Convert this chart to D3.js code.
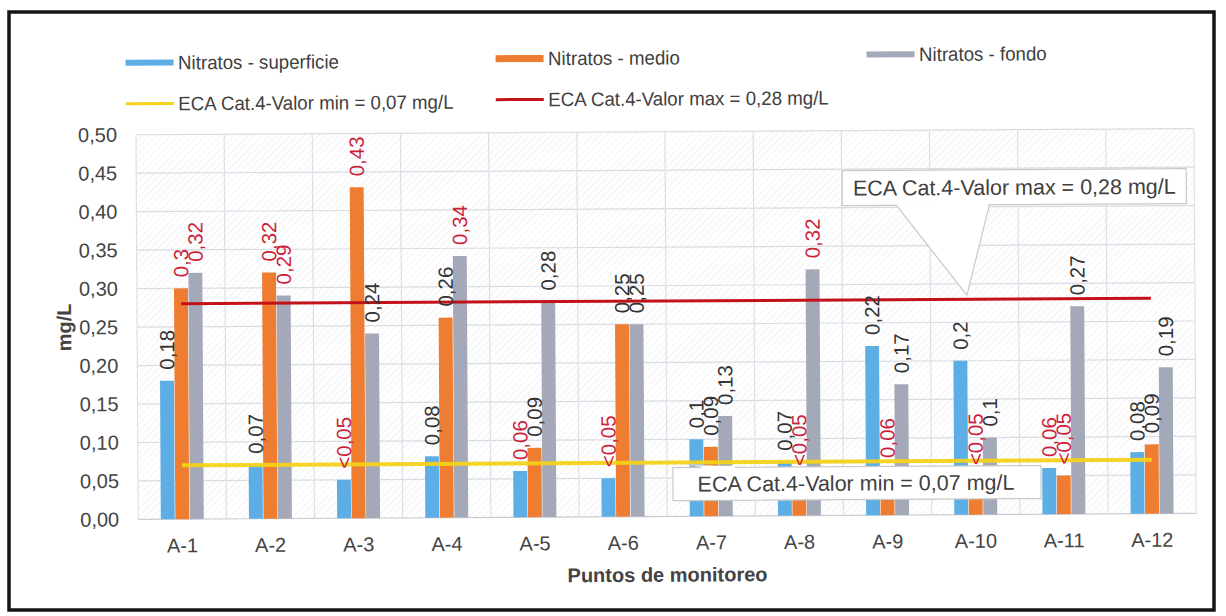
<!DOCTYPE html>
<html>
<head>
<meta charset="utf-8">
<script src="https://cdn.jsdelivr.net/npm/d3@7"></script>
<style>
  html, body { margin: 0; padding: 0; background: #fff; }
  svg { display: block; font-family: "Liberation Sans", Arial, sans-serif; }
</style>
</head>
<body>
<svg id="chart" width="1226" height="616"></svg>
<script>
// Monitoring points
const categories = ["A-1","A-2","A-3","A-4","A-5","A-6","A-7","A-8","A-9","A-10","A-11","A-12"];

// Nitrate concentrations (mg/L) by depth
const superficie = [0.18, 0.07, 0.05, 0.08, 0.06, 0.05, 0.10, 0.07, 0.22, 0.20, 0.06, 0.08];
const medio      = [0.30, 0.32, 0.43, 0.26, 0.09, 0.25, 0.09, 0.05, 0.06, 0.05, 0.05, 0.09];
const fondo      = [0.32, 0.29, 0.24, 0.34, 0.28, 0.25, 0.13, 0.32, 0.17, 0.10, 0.27, 0.19];

// Data labels as printed (values below detection limit shown as "<0,05")
const superficieLabels = ["0,18","0,07","<0,05","0,08","0,06","<0,05","0,1","0,07","0,22","0,2","0,06","0,08"];
const medioLabels      = ["0,3","0,32","0,43","0,26","0,09","0,25","0,09","<0,05","0,06","<0,05","<0,05","0,09"];
const fondoLabels      = ["0,32","0,29","0,24","0,34","0,28","0,25","0,13","0,32","0,17","0,1","0,27","0,19"];

// Water-quality standard (ECA Cat. 4) limits
const ecaMin = 0.07;
const ecaMax = 0.28;

// Axis ticks
const yTicks = [0, 0.05, 0.10, 0.15, 0.20, 0.25, 0.30, 0.35, 0.40, 0.45, 0.50];
const yTickLabels = ["0,00","0,05","0,10","0,15","0,20","0,25","0,30","0,35","0,40","0,45","0,50"];

const seriesNames = ["Nitratos - superficie", "Nitratos - medio", "Nitratos - fondo"];
const seriesColors = ["#5eaee6", "#ee7d31", "#a3a9b8"];
const minLabel = "ECA Cat.4-Valor min = 0,07 mg/L";
const maxLabel = "ECA Cat.4-Valor max = 0,28 mg/L";
const minNote = "ECA Cat.4-Valor  min = 0,07  mg/L";
const maxNote = "ECA Cat.4-Valor  max = 0,28 mg/L";

const series = [
  { name: seriesNames[0], values: superficie, labels: superficieLabels, color: seriesColors[0] },
  { name: seriesNames[1], values: medio,      labels: medioLabels,      color: seriesColors[1] },
  { name: seriesNames[2], values: fondo,      labels: fondoLabels,      color: seriesColors[2] }
];

const svg = d3.select("#chart");
const W = 1226, H = 616;

// outer frame
svg.append("rect").attr("x", 0).attr("y", 0).attr("width", W).attr("height", H).attr("fill", "#fff");
svg.append("rect")
  .attr("x", 9).attr("y", 12).attr("width", 1205).attr("height", 598)
  .attr("fill", "#fff").attr("stroke", "#151515").attr("stroke-width", 3.5);

// the whole chart sits slightly tilted inside the frame
const g = svg.append("g").attr("transform", "rotate(-0.33, 613, 310)");

const plot = { left: 137, right: 1195, top: 132, bottom: 516.7 };

const x0 = d3.scaleBand().domain(categories).range([plot.left, plot.right])
  .paddingInner(0.5).paddingOuter(0.25);
const x1 = d3.scaleBand().domain(d3.range(series.length)).range([0, x0.bandwidth()]).padding(0.04);
const y = d3.scaleLinear().domain([0, 0.5]).range([plot.bottom, plot.top]);
const step = x0.step();
const center = c => x0(c) + x0.bandwidth() / 2;

// faint diagonal texture of the plot area
const defs = svg.append("defs");
const pat = defs.append("pattern").attr("id", "hatch").attr("patternUnits", "userSpaceOnUse")
  .attr("width", 5).attr("height", 5).attr("patternTransform", "rotate(45)");
pat.append("line").attr("x1", 0).attr("y1", 0).attr("x2", 0).attr("y2", 5)
  .attr("stroke", "#e9ebf0").attr("stroke-width", 1.2);
g.append("rect").attr("x", plot.left).attr("y", plot.top)
  .attr("width", plot.right - plot.left).attr("height", plot.bottom - plot.top)
  .attr("fill", "url(#hatch)");

// horizontal gridlines
g.append("g").selectAll("line").data(yTicks).join("line")
  .attr("x1", plot.left).attr("x2", plot.right)
  .attr("y1", d => y(d)).attr("y2", d => y(d))
  .attr("stroke", d => d === 0 ? "#c9ccd3" : "#d9dce3").attr("stroke-width", 1.2);

// vertical gridlines at category boundaries
g.append("g").selectAll("line").data(d3.range(categories.length + 1)).join("line")
  .attr("x1", i => plot.left + i * step).attr("x2", i => plot.left + i * step)
  .attr("y1", plot.top).attr("y2", plot.bottom)
  .attr("stroke", "#dcdfe6").attr("stroke-width", 1.2);

// y axis tick labels
const yAxis = d3.axisLeft(y).tickValues(yTicks).tickSize(0).tickPadding(0)
  .tickFormat((d, i) => yTickLabels[i]);
const ya = g.append("g").attr("transform", `translate(${plot.left - 19},0)`).call(yAxis);
ya.select(".domain").remove();
ya.selectAll("text").attr("font-size", 20).attr("fill", "#444")
  .attr("font-family", "'Liberation Sans', Arial, sans-serif");

// x axis category labels
const xAxis = d3.axisBottom(x0).tickSize(0).tickPadding(0);
const xa = g.append("g").attr("transform", `translate(0,${plot.bottom + 19})`).call(xAxis);
xa.select(".domain").remove();
xa.selectAll("text").attr("font-size", 20).attr("fill", "#444")
  .attr("font-family", "'Liberation Sans', Arial, sans-serif");

// axis titles
g.append("text").attr("x", (plot.left + plot.right) / 2).attr("y", 582)
  .attr("text-anchor", "middle").attr("font-size", 20).attr("font-weight", "bold").attr("fill", "#444")
  .text("Puntos de monitoreo");
g.append("text").attr("transform", `translate(71,${(plot.top + plot.bottom) / 2}) rotate(-90)`)
  .attr("text-anchor", "middle").attr("font-size", 20).attr("font-weight", "bold").attr("fill", "#444")
  .text("mg/L");

// bars
const groups = g.append("g").selectAll("g").data(categories).join("g")
  .attr("transform", c => `translate(${x0(c)},0)`);
groups.selectAll("rect").data((c, i) => series.map((s, k) => ({ k, v: s.values[i], color: s.color })))
  .join("rect")
  .attr("x", d => x1(d.k)).attr("width", x1.bandwidth())
  .attr("y", d => y(d.v)).attr("height", d => y(0) - y(d.v))
  .attr("fill", d => d.color);

// limit lines, from the first to the last monitoring point
const limitLine = d3.line().x(d => center(d[0])).y(d => y(d[1]));
const ends = [categories[0], categories[categories.length - 1]];
g.append("path").attr("d", limitLine(ends.map(c => [c, ecaMin])))
  .attr("stroke", "#f3d21a").attr("stroke-width", 4).attr("fill", "none").attr("opacity", 0.95);
g.append("path").attr("d", limitLine(ends.map(c => [c, ecaMax])))
  .attr("stroke", "#c4121b").attr("stroke-width", 3).attr("fill", "none");

// data labels (red when outside the ECA range or under detection limit)
const labelData = [];
categories.forEach((c, i) => series.forEach((s, k) => {
  labelData.push({ c, k, v: s.values[i], t: s.labels[i] });
}));
const isFlagged = d => d.t.startsWith("<") || d.v > ecaMax || d.v < ecaMin;
g.append("g").selectAll("text").data(labelData).join("text")
  .attr("transform", d => `translate(${x0(d.c) + x1(d.k) + x1.bandwidth() / 2},${y(d.v) - 11}) rotate(-90)`)
  .attr("dy", "0.36em")
  .attr("font-size", 20.5).attr("fill", d => isFlagged(d) ? "#cc1f3c" : "#333")
  .text(d => d.t);

// callout for the maximum limit
const maxBox = { x: 843, y: 172, w: 344, h: 35 };
const maxTip = [967, y(ecaMax) - 4];
g.append("path")
  .attr("d", `M${897},${maxBox.y + maxBox.h} L${maxTip[0]},${maxTip[1]} L${990},${maxBox.y + maxBox.h} Z`)
  .attr("fill", "#fff").attr("stroke", "#c9c9c9").attr("stroke-width", 1.2);
g.append("rect").attr("x", maxBox.x).attr("y", maxBox.y).attr("width", maxBox.w).attr("height", maxBox.h)
  .attr("fill", "#fff").attr("stroke", "#c9c9c9").attr("stroke-width", 1.2);
g.append("rect").attr("x", 898).attr("y", maxBox.y + maxBox.h - 1).attr("width", 91).attr("height", 2.5)
  .attr("fill", "#fff");
g.append("text").attr("x", maxBox.x + maxBox.w / 2).attr("y", maxBox.y + 25)
  .attr("text-anchor", "middle").attr("font-size", 21.5).attr("fill", "#404040").text(maxNote);

// callout for the minimum limit
const minBox = { x: 672, y: 468, w: 368, h: 33 };
const minTip = [688, y(ecaMin) + 2];
g.append("path")
  .attr("d", `M${700},${minBox.y} L${minTip[0]},${minTip[1]} L${735},${minBox.y} Z`)
  .attr("fill", "#fff").attr("stroke", "#c9c9c9").attr("stroke-width", 1.2);
g.append("rect").attr("x", minBox.x).attr("y", minBox.y).attr("width", minBox.w).attr("height", minBox.h)
  .attr("fill", "#fff").attr("stroke", "#c9c9c9").attr("stroke-width", 1.2);
g.append("rect").attr("x", 701).attr("y", minBox.y - 1.5).attr("width", 33).attr("height", 2.5)
  .attr("fill", "#fff");
g.append("text").attr("x", minBox.x + minBox.w / 2 - 1).attr("y", minBox.y + 24)
  .attr("text-anchor", "middle").attr("font-size", 21.5).attr("fill", "#404040").text(minNote);

// legend
const legendItems = [
  { label: seriesNames[0], color: seriesColors[0], x: 127, y: 60, h: 6 },
  { label: seriesNames[1], color: seriesColors[1], x: 497, y: 58, h: 7 },
  { label: seriesNames[2], color: seriesColors[2], x: 868, y: 56, h: 6 },
  { label: minLabel, color: "#f3d21a", x: 127, y: 101, h: 3 },
  { label: maxLabel, color: "#c4121b", x: 497, y: 99, h: 3 }
];
const lg = g.append("g").selectAll("g").data(legendItems).join("g")
  .attr("transform", d => `translate(${d.x},${d.y})`);
lg.append("rect").attr("x", 0).attr("y", d => -d.h / 2).attr("width", 48).attr("height", d => d.h)
  .attr("fill", d => d.color);
lg.append("text").attr("x", 52).attr("dy", "0.35em").attr("font-size", 18.5).attr("fill", "#404040")
  .attr("transform", "scale(1.01,1.05)")
  .text(d => d.label);
</script>
</body>
</html>
